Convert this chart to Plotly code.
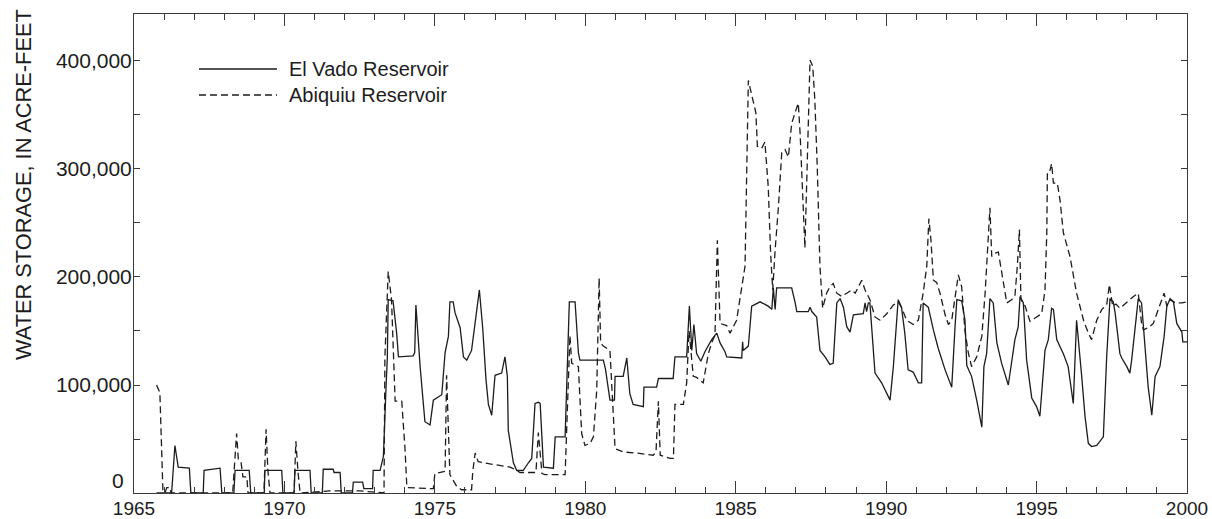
import plotly.graph_objects as go

# ---------------- data ----------------
el_vado_year = [
    1965.75, 1966.25, 1966.36, 1966.42, 1966.47, 1966.84, 1966.89, 1967.30, 1967.33, 1967.86,
    1967.92, 1968.32, 1968.36, 1968.83, 1968.88, 1969.33, 1969.35, 1969.91, 1969.95, 1970.32,
    1970.35, 1970.85, 1970.89, 1971.26, 1971.29, 1971.62, 1971.65, 1971.85, 1971.89, 1972.26,
    1972.29, 1972.60, 1972.64, 1972.93, 1972.95, 1973.18, 1973.29, 1973.38, 1973.42, 1973.45,
    1973.61, 1973.73, 1973.79, 1974.28, 1974.33, 1974.37, 1974.51, 1974.67, 1974.84, 1974.95,
    1975.23, 1975.34, 1975.45, 1975.50, 1975.61, 1975.67, 1975.84, 1975.95, 1976.06, 1976.22,
    1976.34, 1976.48, 1976.59, 1976.70, 1976.78, 1976.89, 1977.00, 1977.22, 1977.33, 1977.41,
    1977.44, 1977.61, 1977.72, 1977.94, 1978.11, 1978.22, 1978.33, 1978.44, 1978.50, 1978.61,
    1978.94, 1979.00, 1979.33, 1979.40, 1979.47, 1979.66, 1979.72, 1979.77, 1979.82, 1980.60,
    1980.67, 1980.82, 1980.97, 1980.99, 1981.26, 1981.38, 1981.48, 1981.59, 1981.93, 1981.95,
    1982.37, 1982.43, 1982.92, 1982.98, 1983.37, 1983.46, 1983.54, 1983.61, 1983.70, 1983.84,
    1983.98, 1984.20, 1984.37, 1984.48, 1984.64, 1984.70, 1985.20, 1985.23, 1985.25, 1985.42,
    1985.53, 1985.81, 1986.08, 1986.20, 1986.25, 1986.31, 1986.36, 1986.86, 1986.97, 1987.03,
    1987.41, 1987.47, 1987.53, 1987.69, 1987.80, 1987.97, 1988.13, 1988.24, 1988.36, 1988.47,
    1988.58, 1988.69, 1988.80, 1988.91, 1989.24, 1989.30, 1989.35, 1989.41, 1989.46, 1989.63,
    1989.85, 1990.13, 1990.24, 1990.40, 1990.51, 1990.62, 1990.73, 1990.90, 1991.07, 1991.18,
    1991.23, 1991.40, 1991.57, 1991.73, 1991.96, 1992.18, 1992.29, 1992.35, 1992.51, 1992.62,
    1992.68, 1992.84, 1993.01, 1993.18, 1993.25, 1993.34, 1993.45, 1993.56, 1993.68, 1993.84,
    1994.06, 1994.17, 1994.28, 1994.39, 1994.45, 1994.56, 1994.67, 1994.84, 1995.00, 1995.11,
    1995.28, 1995.39, 1995.50, 1995.56, 1995.67, 1995.89, 1996.05, 1996.22, 1996.33, 1996.50,
    1996.61, 1996.72, 1996.83, 1997.00, 1997.22, 1997.33, 1997.39, 1997.44, 1997.55, 1997.61,
    1997.77, 1997.83, 1998.00, 1998.10, 1998.16, 1998.27, 1998.38, 1998.49, 1998.60, 1998.71,
    1998.83, 1998.94, 1999.10, 1999.24, 1999.33, 1999.44, 1999.55, 1999.66, 1999.83, 1999.86,
    2000.00,
]
el_vado_storage = [
    0, 0, 44000, 30000, 24000, 23000, 0, 0, 21000, 23000,
    0, 0, 21000, 21000, 0, 0, 21000, 21000, 0, 0,
    21000, 21000, 0, 0, 22000, 22000, 19000, 19000, 0, 0,
    10000, 10000, 4000, 4000, 21000, 21000, 34000, 100000, 125000, 179000,
    178000, 148000, 126000, 127000, 130000, 174000, 117000, 66000, 63000, 86000,
    91000, 130000, 145000, 177000, 177000, 167000, 153000, 126000, 123000, 132000,
    159000, 188000, 153000, 105000, 82000, 72000, 109000, 111000, 126000, 108000,
    58000, 28000, 21000, 21000, 28000, 32000, 83000, 84000, 83000, 24000,
    23000, 52000, 52000, 120000, 177000, 177000, 148000, 130000, 123000, 123000,
    115000, 86000, 86000, 108000, 108000, 125000, 92000, 82000, 80000, 98000,
    98000, 106000, 106000, 126000, 126000, 173000, 132000, 156000, 129000, 122000,
    131000, 142000, 148000, 139000, 131000, 126000, 125000, 140000, 132000, 136000,
    173000, 177000, 173000, 170000, 190000, 170000, 190000, 190000, 177000, 168000,
    168000, 172000, 168000, 163000, 132000, 126000, 119000, 120000, 176000, 180000,
    172000, 154000, 149000, 165000, 166000, 176000, 168000, 176000, 176000, 111000,
    102000, 86000, 117000, 179000, 172000, 148000, 114000, 112000, 102000, 102000,
    176000, 172000, 151000, 134000, 114000, 98000, 154000, 179000, 178000, 160000,
    118000, 108000, 86000, 61000, 117000, 129000, 180000, 176000, 139000, 120000,
    100000, 120000, 142000, 154000, 182000, 176000, 123000, 88000, 80000, 71000,
    132000, 142000, 171000, 170000, 142000, 129000, 117000, 83000, 160000, 108000,
    71000, 46000, 43000, 44000, 52000, 126000, 154000, 180000, 177000, 167000,
    129000, 125000, 117000, 111000, 123000, 151000, 180000, 176000, 139000, 98000,
    72000, 108000, 117000, 145000, 173000, 180000, 177000, 157000, 149000, 140000,
    140000,
]

abiquiu_year = [
    1965.75, 1965.86, 1965.96, 1966.03, 1966.09, 1966.20, 1966.23, 1968.28, 1968.41, 1968.47,
    1968.56, 1968.62, 1968.75, 1968.79, 1969.32, 1969.39, 1969.45, 1969.52, 1970.32, 1970.38,
    1970.45, 1970.52, 1971.50, 1972.50, 1973.31, 1973.34, 1973.45, 1973.56, 1973.62, 1973.68,
    1973.90, 1973.95, 1974.01, 1974.07, 1974.95, 1975.00, 1975.34, 1975.39, 1975.45, 1975.50,
    1975.73, 1975.89, 1976.22, 1976.26, 1976.34, 1976.44, 1976.83, 1977.50, 1977.72, 1977.83,
    1978.36, 1978.44, 1978.56, 1978.66, 1979.33, 1979.40, 1979.49, 1979.55, 1979.77, 1979.88,
    1979.99, 1980.16, 1980.27, 1980.38, 1980.46, 1980.51, 1980.60, 1980.82, 1980.91, 1980.99,
    1981.26, 1981.71, 1982.26, 1982.35, 1982.43, 1982.49, 1982.82, 1982.93, 1982.98, 1983.26,
    1983.37, 1983.45, 1983.59, 1983.70, 1983.92, 1984.09, 1984.20, 1984.31, 1984.39, 1984.48,
    1984.70, 1984.81, 1985.03, 1985.20, 1985.31, 1985.42, 1985.47, 1985.58, 1985.67, 1985.72,
    1985.86, 1985.97, 1986.08, 1986.16, 1986.23, 1986.31, 1986.42, 1986.53, 1986.64, 1986.75,
    1986.86, 1986.97, 1987.08, 1987.14, 1987.23, 1987.30, 1987.38, 1987.47, 1987.56, 1987.63,
    1987.71, 1987.80, 1987.89, 1988.02, 1988.13, 1988.24, 1988.36, 1988.52, 1988.69, 1988.86,
    1988.97, 1989.08, 1989.19, 1989.30, 1989.46, 1989.63, 1989.80, 1990.02, 1990.24, 1990.40,
    1990.51, 1990.68, 1990.90, 1991.07, 1991.23, 1991.35, 1991.42, 1991.49, 1991.57, 1991.68,
    1991.79, 1991.96, 1992.07, 1992.18, 1992.29, 1992.40, 1992.51, 1992.62, 1992.73, 1992.84,
    1993.01, 1993.18, 1993.29, 1993.40, 1993.45, 1993.51, 1993.62, 1993.73, 1993.84, 1994.01,
    1994.17, 1994.28, 1994.36, 1994.43, 1994.48, 1994.62, 1994.78, 1994.95, 1995.17, 1995.28,
    1995.34, 1995.36, 1995.45, 1995.50, 1995.56, 1995.69, 1995.78, 1995.89, 1996.11, 1996.33,
    1996.56, 1996.72, 1996.83, 1997.00, 1997.17, 1997.33, 1997.42, 1997.53, 1997.64, 1997.77,
    1998.00, 1998.22, 1998.38, 1998.49, 1998.55, 1998.71, 1998.88, 1999.05, 1999.16, 1999.24,
    1999.33, 1999.44, 1999.61, 1999.83, 2000.00,
]
abiquiu_storage = [
    100000, 93000, 3000, 0, 5000, 5000, 0, 0, 55000, 30000,
    28000, 15000, 15000, 0, 0, 59000, 21000, 0, 0, 48000,
    20000, 0, 2000, 2000, 0, 126000, 205000, 179000, 132000, 85000,
    85000, 65000, 40000, 5000, 4000, 18000, 20000, 109000, 50000, 17000,
    6000, 3000, 3000, 20000, 37000, 29000, 27000, 24000, 21000, 19000,
    19000, 56000, 18000, 17000, 17000, 80000, 146000, 120000, 117000, 55000,
    44000, 46000, 52000, 95000, 199000, 139000, 136000, 132000, 89000, 41000,
    38000, 37000, 35000, 38000, 85000, 35000, 32000, 32000, 82000, 82000,
    102000, 150000, 108000, 107000, 102000, 129000, 139000, 146000, 234000, 157000,
    155000, 148000, 160000, 191000, 210000, 382000, 376000, 361000, 352000, 321000,
    319000, 325000, 284000, 222000, 188000, 225000, 265000, 315000, 318000, 311000,
    342000, 352000, 361000, 333000, 271000, 227000, 308000, 401000, 395000, 364000,
    302000, 210000, 171000, 185000, 191000, 194000, 185000, 182000, 185000, 188000,
    185000, 191000, 197000, 188000, 179000, 163000, 160000, 166000, 174000, 177000,
    172000, 160000, 156000, 160000, 185000, 210000, 254000, 234000, 197000, 195000,
    185000, 165000, 156000, 160000, 179000, 202000, 191000, 150000, 130000, 117000,
    126000, 145000, 185000, 244000, 264000, 219000, 222000, 223000, 203000, 176000,
    179000, 182000, 210000, 244000, 179000, 173000, 159000, 162000, 166000, 188000,
    241000, 298000, 299000, 305000, 287000, 287000, 271000, 241000, 219000, 185000,
    160000, 148000, 142000, 160000, 170000, 174000, 193000, 173000, 175000, 171000,
    177000, 182000, 185000, 157000, 151000, 153000, 157000, 170000, 179000, 185000,
    173000, 179000, 176000, 176000, 177000,
]

series_names = ["El Vado Reservoir", "Abiquiu Reservoir"]
y_title = "WATER STORAGE, IN ACRE-FEET"
y_tick_values = [100000, 200000, 300000, 400000]
y_zero_label = "0"

# ---------------- figure ----------------
INK = "#1c1c1c"
AXIS = "#3a3a3a"
FONT = "Liberation Sans, Arial, Helvetica, sans-serif"

fig = go.Figure()
fig.add_trace(go.Scatter(
    x=el_vado_year, y=el_vado_storage, mode="lines", name=series_names[0],
    line=dict(color=INK, width=1.3), showlegend=False,
))
fig.add_trace(go.Scatter(
    x=abiquiu_year, y=abiquiu_storage, mode="lines", name=series_names[1],
    line=dict(color=INK, width=1.3, dash="7px,4px"), showlegend=False,
))

# hand-drawn legend (long sample lines like the reference)
leg_x0, leg_x1, leg_tx = 0.0617, 0.1358, 0.1453
leg_rows = [0.8852, 0.8309]
for name, ypos, dash in zip(series_names, leg_rows, ["solid", "7px,4px"]):
    fig.add_shape(type="line", xref="paper", yref="paper",
                  x0=leg_x0, x1=leg_x1, y0=ypos, y1=ypos,
                  line=dict(color=INK, width=1.3, dash=dash))
    fig.add_annotation(xref="paper", yref="paper", x=leg_tx, y=ypos,
                       text=name, showarrow=False, xanchor="left", yanchor="middle",
                       font=dict(family=FONT, size=20, color=INK))

# y-axis title positioned like the reference (upper part of the axis)
fig.add_annotation(xref="paper", yref="paper", x=-0.1054, y=0.643,
                   text=y_title, textangle=-90, showarrow=False,
                   xanchor="center", yanchor="middle",
                   font=dict(family=FONT, size=21.8, color=INK))

# the "0" label sits a little above the corner, as in the reference
fig.add_annotation(xref="paper", yref="y", x=0, y=12000, xshift=-8,
                   text=y_zero_label, showarrow=False,
                   xanchor="right", yanchor="middle",
                   font=dict(family=FONT, size=21, color=INK))

fig.update_xaxes(
    range=[1965, 2000], showgrid=False, zeroline=False, automargin=False,
    showline=True, linecolor=AXIS, linewidth=1, mirror="ticks",
    ticks="inside", ticklen=12, tickwidth=1, tickcolor=AXIS,
    tickmode="linear", tick0=1965, dtick=5, ticklabelstandoff=-2,
    minor=dict(ticks="inside", ticklen=6, tickwidth=1, tickcolor=AXIS, dtick=1, tick0=1965, showgrid=False),
    tickfont=dict(family=FONT, size=19, color=INK),
)
fig.update_yaxes(
    range=[0, 443500], showgrid=False, zeroline=False, automargin=False,
    showline=True, linecolor=AXIS, linewidth=1, mirror="ticks",
    ticks="inside", ticklen=6, tickwidth=1, tickcolor=AXIS,
    tickmode="array", tickvals=y_tick_values, tickformat=",d", ticklabelstandoff=-3,
    minor=dict(ticks="inside", ticklen=6, tickwidth=1, tickcolor=AXIS, dtick=50000, tick0=0, showgrid=False),
    tickfont=dict(family=FONT, size=21, color=INK),
)

fig.update_layout(
    width=1212, height=519,
    margin=dict(l=134, r=25, t=14, b=26, pad=0),
    paper_bgcolor="white", plot_bgcolor="white",
    font=dict(family=FONT, color=INK),
)

fig.write_html("out.html", config={"displayModeBar": False},
               post_script="document.body.style.margin='0';")
